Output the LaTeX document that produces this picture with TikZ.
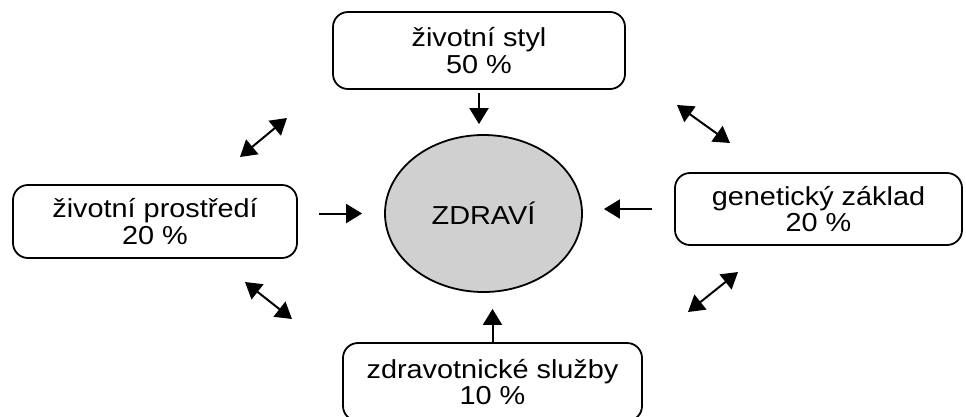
\documentclass[tikz,border=0pt]{standalone}
\usepackage{fontspec}
\setmainfont{Liberation Sans}[FakeStretch=1.11]
\usetikzlibrary{arrows.meta, shapes.geometric}
\definecolor{grisSalud}{RGB}{208,208,208}

\begin{document}
\begin{tikzpicture}[x=1pt, y=-1pt,
    caja/.style={draw=black, line width=1.8pt, rounded corners=15pt,
      align=center, inner sep=0pt, font=\fontsize{26}{26.5}\selectfont},
    flecha/.style={-{Triangle[length=16pt,width=19pt]}, line width=2pt},
    doble/.style={{Triangle[length=16pt,width=19pt]}-{Triangle[length=16pt,width=19pt]}, line width=2pt}]
  \useasboundingbox (0,0) rectangle (966,416);

  % 1. CENTRO
  \node[ellipse, draw=black, fill=grisSalud, line width=1.8pt,
    minimum width=197pt, minimum height=157pt,
    font=\fontsize{26}{26}\selectfont] (salud) at (483.5,213.5) {ZDRAVÍ};

  % 2. FACTORES
  \node[caja, minimum width=292pt, minimum height=77pt] (estilo) at (479,50.5)
    {životní styl\\50 \%};
  \node[caja, minimum width=284pt, minimum height=73pt] (entorno) at (155,221.5)
    {životní prostředí\\20 \%};
  \node[caja, minimum width=287pt, minimum height=72pt] (genetica) at (818.5,209)
    {genetický základ\\20 \%};
  \node[caja, minimum width=299pt, minimum height=78pt] (servicios) at (492.5,382)
    {zdravotnické služby\\10 \%};

  % 3. FLECHAS HACIA EL CENTRO
  \draw[flecha, shorten <=3pt, shorten >=10pt]
    (estilo.south) -- (estilo.south |- salud.north);
  \draw[flecha, shorten <=21pt, shorten >=22pt]
    (entorno.east |- salud.west) -- (salud.west);
  \draw[flecha, shorten <=22pt, shorten >=21pt]
    (genetica.west) -- (genetica.west -| salud.east);
  \draw[flecha, shorten >=16pt]
    (servicios.north) -- (servicios.north |- salud.south);

  % 4. FLECHAS DOBLES ENTRE FACTORES
  \coordinate (a1) at (240,157); \coordinate (b1) at (287,118);
  \coordinate (a2) at (245,282); \coordinate (b2) at (292,319);
  \coordinate (a3) at (677,105); \coordinate (b3) at (730,143);
  \coordinate (a4) at (688,312); \coordinate (b4) at (738,272);
  \draw[doble] (a1) -- (b1);
  \draw[doble] (a2) -- (b2);
  \draw[doble] (a3) -- (b3);
  \draw[doble] (a4) -- (b4);
\end{tikzpicture}
\end{document}
